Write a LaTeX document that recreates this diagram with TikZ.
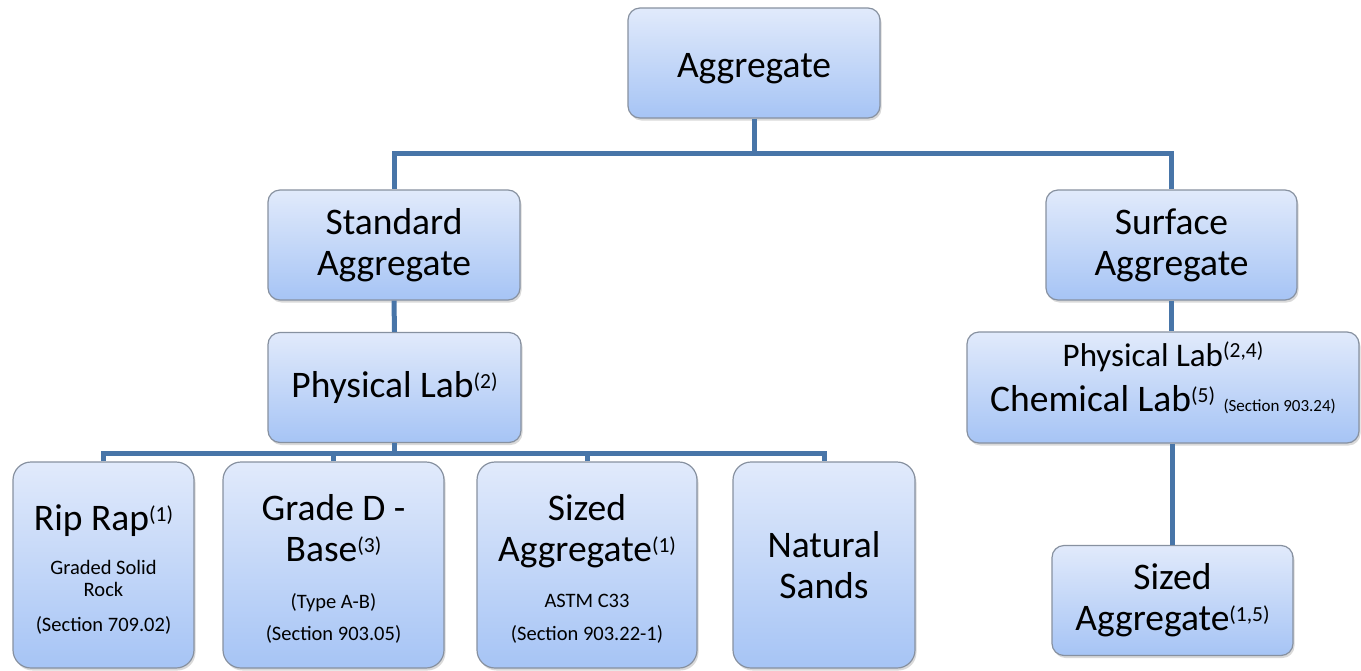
\documentclass[tikz,border=0pt]{standalone}
\usepackage{fontspec}
\setmainfont{Carlito}
\usetikzlibrary{shadows}
\definecolor{boxtop}{RGB}{225,234,251}
\definecolor{boxbot}{RGB}{166,196,245}
\definecolor{boxedge}{RGB}{135,145,160}
\definecolor{conn}{RGB}{72,117,168}
\newcommand\bigt{\fontsize{37.5}{41}\selectfont}
\newcommand\smt{\fontsize{20.5}{22}\selectfont}
\newcommand\supr[1]{\raisebox{9.5pt}{\fontsize{21.5}{21}\selectfont #1}}
\begin{document}
\begin{tikzpicture}[x=1pt,y=-1pt,
  box/.style={draw=boxedge, line width=1.2pt, rounded corners=12pt,
    top color=boxtop, bottom color=boxbot,
    drop shadow={opacity=0.3,shadow xshift=1.5pt,shadow yshift=-2.5pt},
    inner sep=0pt, align=center, font=\bigt, minimum height=110pt},
  tallbox/.style={box, rounded corners=18pt, minimum width=#1, text width=#1-14pt,
    align=flush center, minimum height=206pt},
  link/.style={draw=conn, line width=5pt}]
\useasboundingbox (0,0) rectangle (1361,670);
% top level
\node[box, minimum width=252pt] (agg) at (754,63) {\rule{0pt}{36pt}Aggregate};
\node[box, minimum width=252pt] (std) at (394,245) {Standard\\Aggregate};
\node[box, minimum width=251pt] (surf) at (1171.5,245) {Surface\\Aggregate};
\node[box, minimum width=253pt] (plab) at (394.5,387.5) {Physical Lab\supr{(2)}};
\node[box, minimum width=392pt, minimum height=111pt] (rlab) at (1163,387.5)
  {{\fontsize{33}{41}\selectfont Physical Lab\supr{(2,4)}}\\[4pt]%
   Chemical Lab\supr{(5)} {\fontsize{17}{17}\selectfont (Section 903.24)}\rule[-22pt]{0pt}{1pt}};
\node[box, minimum width=241pt] (sz2) at (1172.5,600.5) {Sized\\Aggregate\supr{(1,5)}};
% bottom row
\node[tallbox=181pt] (rip) at (103.5,565)
  {{\bigt \rule{0pt}{35pt}Rip Rap\supr{(1)}\par}\vspace{22pt}{\smt Graded Solid\\Rock\par}\vspace{13pt}{\smt (Section 709.02)\par}};
\node[tallbox=221pt] (grd) at (333.5,565)
  {{\bigt \rule{0pt}{34pt}Grade D -\\Base\supr{(3)}\par}\vspace{25pt}{\smt (Type A-B)\par}\vspace{10pt}{\smt (Section 903.05)\par}};
\node[tallbox=220pt] (szd) at (587,565)
  {{\bigt \rule{0pt}{34pt}Sized\\Aggregate\supr{(1)}\par}\vspace{24pt}{\smt ASTM C33\par}\vspace{11pt}{\smt (Section 903.22-1)\par}};
\node[tallbox=182pt] (nat) at (824,565)
  {{\bigt Natural\\Sands\par}};
% connectors
\coordinate (j0) at (754,153);
\coordinate (j1) at (394.5,453);
\draw[link] (agg.south) -- (j0) -| (std.north);
\draw[link] (j0) -| (surf.north);
\draw[link] (std.south) -- (plab.north);
\draw[link] (plab.south) -- (j1);
\draw[link] (rip.north) |- (j1) -| (nat.north);
\draw[link] (grd.north) -- (grd.north |- j1);
\draw[link] (szd.north) -- (szd.north |- j1);
\draw[link] (surf.south) -- (surf.south |- rlab.north);
\draw[link] (rlab.south -| sz2.north) -- (sz2.north);
\end{tikzpicture}
\end{document}
